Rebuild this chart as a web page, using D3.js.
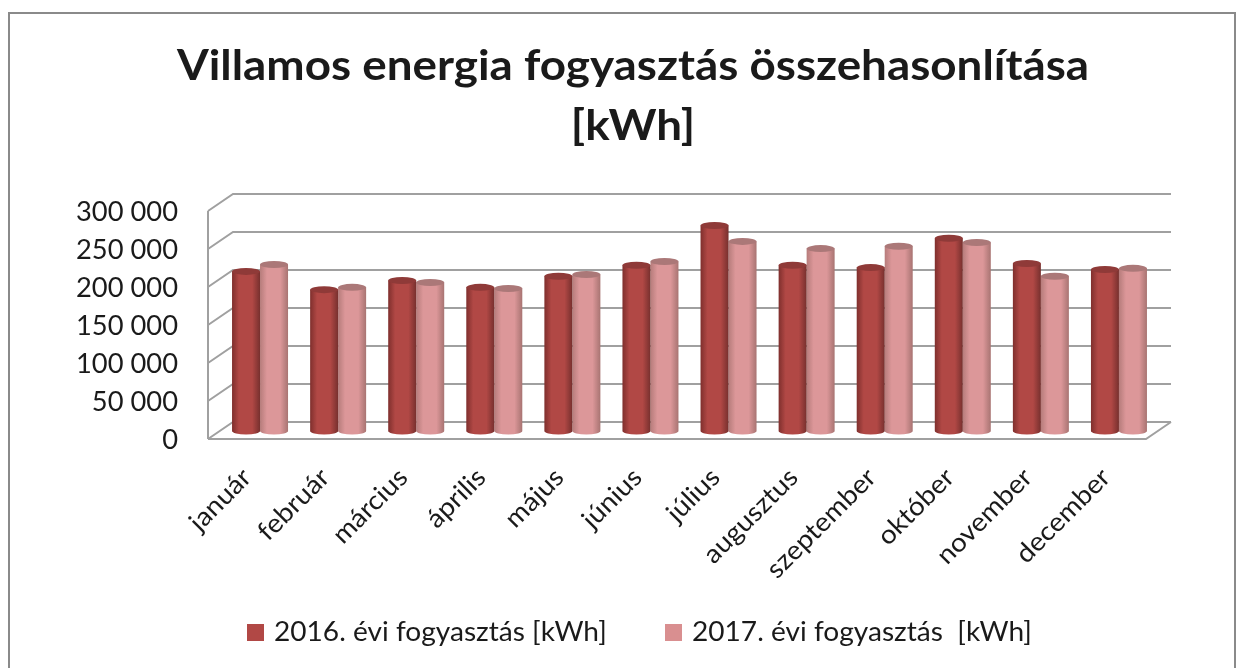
<!DOCTYPE html>
<html>
<head>
<meta charset="utf-8">
<script src="https://cdn.jsdelivr.net/npm/d3@7"></script>
<style>
  body { margin: 0; background: #fff; }
  text { font-family: Lato, "Open Sans", sans-serif; fill: #1a1a1a; }
  svg { filter: blur(0.45px); }
</style>
</head>
<body>
<div id="myPlot"></div>
<script>
const months = ["január", "február", "március", "április", "május", "június",
  "július", "augusztus", "szeptember", "október", "november", "december"];
const values2016 = [210000, 186000, 198000, 189000, 203500, 218000,
  270500, 218000, 215000, 253500, 220500, 212500];
const values2017 = [219000, 189000, 195500, 187500, 206000, 223000,
  249500, 240000, 243000, 248000, 203500, 214000];
const yTicks = [0, 50000, 100000, 150000, 200000, 250000, 300000];
const seriesNames = ["2016. évi fogyasztás [kWh]", "2017. évi fogyasztás  [kWh]"];
const titleLines = ["Villamos energia fogyasztás összehasonlítása", "[kWh]"];

const width = 1249, height = 668;
const depthX = 25, depthY = 17;

const svg = d3.select("#myPlot").append("svg")
  .attr("width", width).attr("height", height)
  .style("display", "block");

// gradients for the cylinders
const defs = svg.append("defs");
function cylinder(id, dark, mid, edge) {
  const g = defs.append("linearGradient").attr("id", id);
  g.append("stop").attr("offset", "0%").attr("stop-color", dark);
  g.append("stop").attr("offset", "25%").attr("stop-color", mid);
  g.append("stop").attr("offset", "72%").attr("stop-color", mid);
  g.append("stop").attr("offset", "100%").attr("stop-color", edge);
}
cylinder("c2016", "#7f2f2d", "#b14845", "#77302e");
cylinder("c2017", "#b67c7b", "#dc9799", "#a87472");

// the fonts run narrower than the original, so widen the text a bit
function stretch(sel, k) {
  sel.each(function () {
    const len = this.getComputedTextLength();
    d3.select(this).attr("textLength", len * k).attr("lengthAdjust", "spacingAndGlyphs");
  });
}

// frame
svg.append("rect").attr("x", 9).attr("y", 13).attr("width", 1226).attr("height", 670)
  .attr("fill", "#fff").attr("stroke", "#8a8a8a").attr("stroke-width", 2);

// scales
const x = d3.scaleBand().domain(months).range([221, 1158]);
const y = d3.scaleLinear().domain([0, 300000]).range([439, 211]);
const barY = d3.scaleLinear().domain([0, 300000]).range([431, 203]);

const grid = svg.append("g").attr("fill", "none").attr("stroke", "#a0a0a0").attr("stroke-width", 2);

// back wall gridlines and side wall
yTicks.forEach(t => {
  grid.append("path").attr("d", d3.line()([
    [208, y(t)], [208 + depthX, y(t) - depthY], [1171, y(t) - depthY]
  ]));
});
grid.append("path").attr("d", d3.line()([[208, y(0)], [208, y(300000)]]));
grid.append("path").attr("d", d3.line()([
  [208, y(0)], [1146, y(0)], [1171, y(0) - depthY]
]));

// y labels, drawn by the axis
const yAxis = d3.axisLeft(y).tickValues(yTicks).tickSize(0).tickPadding(30)
  .tickFormat(d => d3.format(",")(d).replace(",", " "));
const yG = svg.append("g").attr("transform", "translate(208,0)").call(yAxis);
yG.select(".domain").remove();
yG.selectAll("text").style("font-size", "26px").attr("dy", "0.38em").call(stretch, 1.05);

// bars
const barW = 28, ry = 3.5;
function drawSeries(vals, fillId, topColor, dx) {
  const g = svg.append("g");
  vals.forEach((v, i) => {
    const cx = x(months[i]) + x.bandwidth() / 2 + dx;
    const top = barY(v), base = barY(0);
    const rx = barW / 2;
    g.append("path")
      .attr("d", `M${cx - rx},${top} L${cx - rx},${base} A${rx},${ry} 0 0 0 ${cx + rx},${base} L${cx + rx},${top} Z`)
      .attr("fill", `url(#${fillId})`);
    g.append("ellipse").attr("cx", cx).attr("cy", top).attr("rx", rx).attr("ry", ry)
      .attr("fill", topColor);
  });
}
drawSeries(values2017, "c2017", "#ab7878", 14);
drawSeries(values2016, "c2016", "#8f3a38", -14);

// x labels rotated
const xAxis = d3.axisBottom(x).tickSize(0).tickPadding(0);
const xG = svg.append("g").attr("transform", "translate(0,439)").call(xAxis);
xG.select(".domain").remove();
xG.selectAll("text")
  .style("font-size", "26px")
  .attr("text-anchor", "end")
  .attr("dy", 0)
  .attr("transform", "translate(-7,40) rotate(-45)")
  .call(stretch, 1.07);

// title
svg.append("g").selectAll("text").data(titleLines).enter().append("text")
  .attr("x", 633)
  .attr("y", (d, i) => 80 + i * 60)
  .attr("text-anchor", "middle")
  .style("font-size", "42px")
  .style("font-weight", "bold")
  .text(d => d)
  .call(stretch, 1.09);

// legend
const legendX = [247, 665];
const legendColors = ["#b14845", "#d98f90"];
seriesNames.forEach((name, i) => {
  svg.append("rect").attr("x", legendX[i]).attr("y", 624).attr("width", 17).attr("height", 17)
    .attr("fill", legendColors[i]);
  svg.append("text").attr("x", legendX[i] + 27).attr("y", 641)
    .style("font-size", "26px").style("white-space", "pre").text(name)
    .call(stretch, 1.08);
});
</script>
</body>
</html>
